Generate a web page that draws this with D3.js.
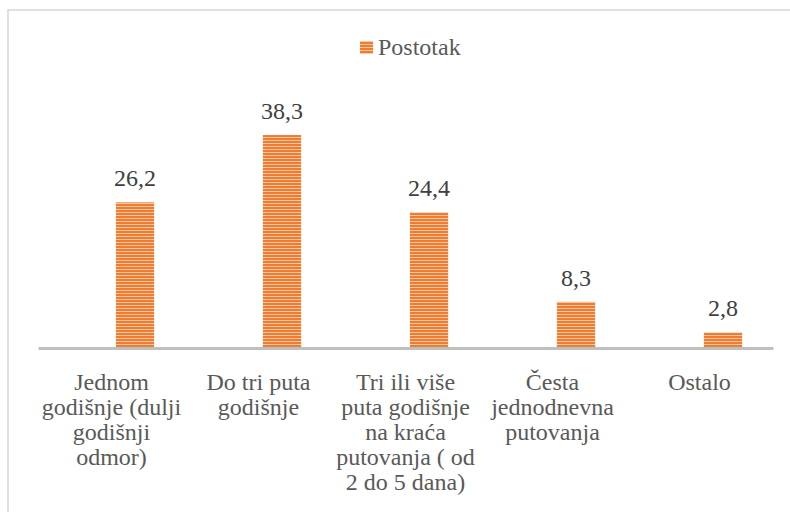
<!DOCTYPE html>
<html><head><meta charset="utf-8">
<script src="https://cdn.jsdelivr.net/npm/d3@7"></script>
<style>body{margin:0;background:#fff}svg{display:block}
svg text{font-family:"Liberation Serif","Times New Roman",Tinos,"DejaVu Serif",serif;}</style>
</head><body>
<script>
const categories = ["Jednom godišnje (dulji godišnji odmor)", "Do tri puta godišnje", "Tri ili više puta godišnje na kraća putovanja ( od 2 do 5 dana)", "Česta jednodnevna putovanja", "Ostalo"];
const categoryLines = [["Jednom", "godišnje (dulji", "godišnji", "odmor)"], ["Do tri puta", "godišnje"], ["Tri ili više", "puta godišnje", "na kraća", "putovanja ( od", "2 do 5 dana)"], ["Česta", "jednodnevna", "putovanja"], ["Ostalo"]];
const values = [26.2, 38.3, 24.4, 8.3, 2.8];
const valueLabels = ["26,2", "38,3", "24,4", "8,3", "2,8"];
const seriesName = "Postotak";

const W = 790, H = 512;
const svg = d3.select("body").append("svg").attr("width", W).attr("height", H);

const defs = svg.append("defs");
const pat = defs.append("pattern").attr("id", "stripes").attr("patternUnits", "userSpaceOnUse")
  .attr("width", 8).attr("height", 3);
pat.append("rect").attr("width", 8).attr("height", 3).attr("fill", "#EF7C30");
pat.append("rect").attr("y", 2).attr("width", 8).attr("height", 1).attr("fill", "#F8C7A2");

// outer border
svg.append("rect").attr("x", 8).attr("y", 10).attr("width", 800).attr("height", 520)
  .attr("fill", "none").attr("stroke", "#d9d9d9").attr("stroke-width", 1.6);

const x = d3.scaleBand().domain(categories).range([38, 773]);
const y = d3.scaleLinear().domain([0, 45]).range([348, 97.8]);
const bw = x.bandwidth();
const barW = bw * 0.26;
const barOff = bw * 0.66 - barW / 2;

svg.append("g").selectAll("rect").data(values).join("rect")
  .attr("x", (d, i) => x(categories[i]) + barOff)
  .attr("y", d => y(d))
  .attr("width", barW)
  .attr("height", d => y(0) - y(d))
  .attr("fill", "url(#stripes)");

// axis line
const axis = svg.append("g").attr("transform", `translate(0,${y(0)})`)
  .call(d3.axisBottom(x).tickSize(0).tickFormat(""));
axis.select(".domain").attr("stroke", "#bfbfbf").attr("stroke-width", 3);
axis.attr("font-family", null);

// value labels
svg.append("g").selectAll("text").data(values).join("text")
  .attr("x", (d, i) => x(categories[i]) + barOff + barW / 2)
  .attr("y", d => y(d) - 16)
  .attr("text-anchor", "middle")
  .attr("font-size", 24).attr("fill", "#404040")
  .text((d, i) => valueLabels[i]);

// category labels
const cl = svg.append("g").selectAll("text").data(categories).join("text")
  .attr("text-anchor", "middle")
  .attr("font-size", 24).attr("fill", "#595959");
cl.each(function(c, i) {
  const t = d3.select(this);
  categoryLines[i].forEach((ln, j) => {
    t.append("tspan").attr("x", x(c) + bw / 2).attr("y", 390 + j * 24.9).text(ln);
  });
});

// legend
const lg = svg.append("g");
lg.append("rect").attr("x", 360).attr("y", 41).attr("width", 13).attr("height", 13).attr("fill", "url(#stripes)");
lg.append("text").attr("x", 378).attr("y", 54.5).attr("font-size", 24)
  .attr("fill", "#595959").text(seriesName);
</script>
</body></html>
